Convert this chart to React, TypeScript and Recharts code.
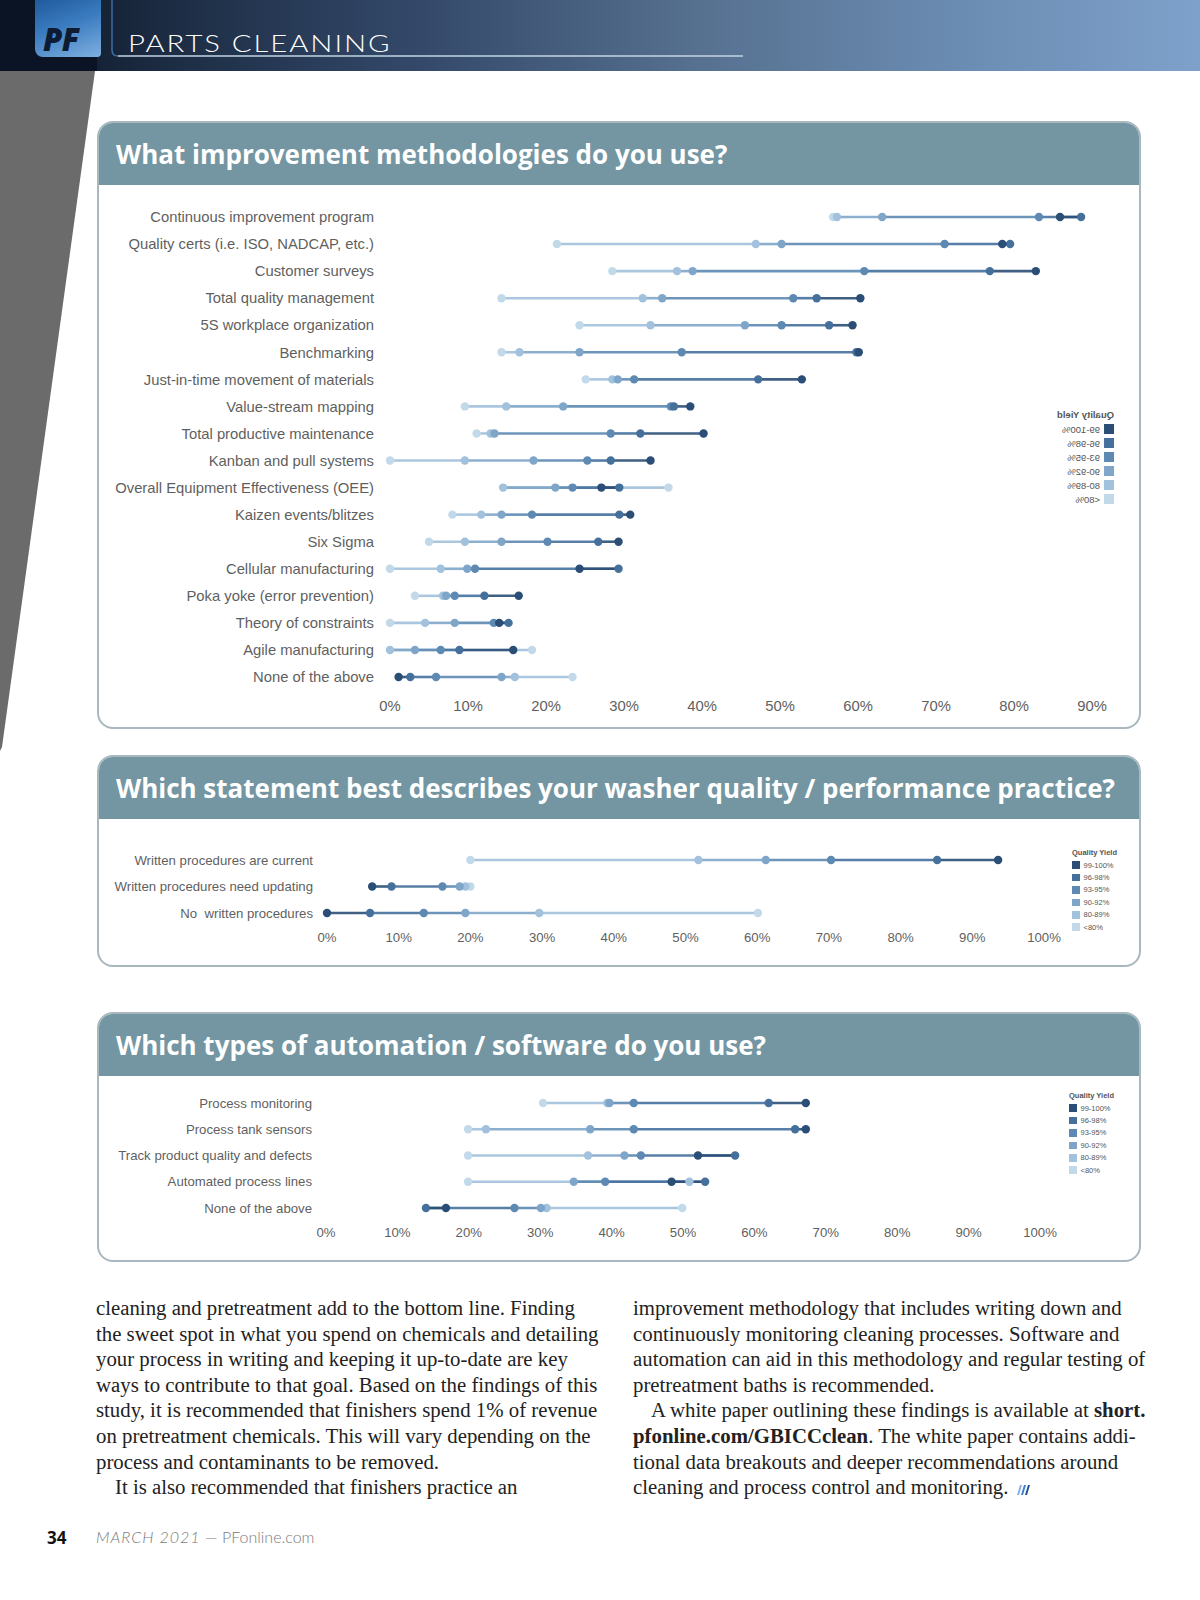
import React from "react";
import { ComposedChart, ErrorBar, Scatter, XAxis, YAxis } from "recharts";

// Quality yield groups, lightest to darkest
const yieldGroups = ["<80%", "80-89%", "90-92%", "93-95%", "96-98%", "99-100%"];
const yieldColors = ["#c2d9ea", "#a1c1dc", "#7fa6c9", "#5d89b3", "#45709c", "#2a4e76"];

// What improvement methodologies do you use?
const methodCategories = [
  "Continuous improvement program",
  "Quality certs (i.e. ISO, NADCAP, etc.)",
  "Customer surveys",
  "Total quality management",
  "5S workplace organization",
  "Benchmarking",
  "Just-in-time movement of materials",
  "Value-stream mapping",
  "Total productive maintenance",
  "Kanban and pull systems",
  "Overall Equipment Effectiveness (OEE)",
  "Kaizen events/blitzes",
  "Six Sigma",
  "Cellular manufacturing",
  "Poka yoke (error prevention)",
  "Theory of constraints",
  "Agile manufacturing",
  "None of the above",
];
const methodLt80 = [56.8, 21.4, 28.5, 14.3, 24.3, 14.3, 25.1, 9.6, 11.1, 0.0, 35.7, 8.0, 5.0, 0.0, 3.2, 0.0, 18.2, 23.4];
const method80 = [57.3, 46.9, 36.8, 32.4, 33.4, 16.6, 28.5, 14.9, 12.9, 9.6, 14.5, 11.7, 9.6, 6.5, 6.8, 4.5, 0.0, 16.0];
const method90 = [63.1, 50.2, 38.8, 34.9, 45.5, 24.3, 29.2, 22.2, 13.4, 18.4, 21.2, 14.3, 14.3, 9.9, 7.2, 8.3, 3.2, 14.3];
const method93 = [83.2, 71.1, 60.8, 51.7, 50.2, 37.4, 31.3, 36.0, 28.3, 25.3, 23.4, 18.2, 20.2, 10.9, 8.3, 13.3, 6.5, 5.9];
const method96 = [88.6, 79.5, 76.9, 54.7, 56.3, 59.8, 47.2, 36.4, 32.1, 28.3, 29.4, 29.4, 26.7, 29.3, 12.1, 15.2, 8.9, 2.6];
const method99 = [85.9, 78.5, 82.8, 60.3, 59.3, 60.1, 52.8, 38.5, 40.2, 33.4, 27.1, 30.8, 29.3, 24.3, 16.5, 14.0, 15.8, 1.1];
const methodTicks = [0, 10, 20, 30, 40, 50, 60, 70, 80, 90];

// Which statement best describes your washer quality / performance practice?
const practiceCategories = [
  "Written procedures are current",
  "Written procedures need updating",
  "No\u00a0 written procedures",
];
const practiceLt80 = [20.0, 20.0, 60.1];
const practice80 = [51.8, 19.3, 29.6];
const practice90 = [61.2, 18.5, 19.3];
const practice93 = [70.3, 16.1, 13.5];
const practice96 = [85.1, 9.0, 6.0];
const practice99 = [93.6, 6.3, 0.0];

// Which types of automation / software do you use?
const automationCategories = [
  "Process monitoring",
  "Process tank sensors",
  "Track product quality and defects",
  "Automated process lines",
  "None of the above",
];
const automationLt80 = [30.4, 19.9, 19.9, 19.9, 49.9];
const automation80 = [39.4, 22.4, 36.7, 50.9, 30.9];
const automation90 = [39.7, 37.0, 41.8, 34.7, 30.1];
const automation93 = [43.1, 43.1, 44.1, 39.1, 26.4];
const automation96 = [62.0, 65.7, 57.3, 53.1, 14.0];
const automation99 = [67.2, 67.2, 52.1, 48.4, 16.8];
const percentTicks = [0, 10, 20, 30, 40, 50, 60, 70, 80, 90, 100];

const keys = ["g0", "g1", "g2", "g3", "g4", "g5"];

function buildRows(categories: string[], series: number[][]) {
  return categories.map((label, r) => {
    const row: Record<string, any> = { label };
    series.forEach((s, i) => {
      row[keys[i]] = s[r];
    });
    return row;
  });
}

// segment from the previous yield group to this one, as an asymmetric x error bar
function segment(i: number) {
  return (row: Record<string, any>) => {
    const d = row[keys[i]] - row[keys[i - 1]];
    return d >= 0 ? [d, 0] : [0, -d];
  };
}

const noDot = () => <g />;

function DotPlot({
  categories,
  series,
  ticks,
  width,
  height,
  margin,
  yWidth,
  xHeight,
  fontSize,
  xTickMargin,
  yTickMargin,
}: {
  categories: string[];
  series: number[][];
  ticks: number[];
  width: number;
  height: number;
  margin: { top: number; right: number; bottom: number; left: number };
  yWidth: number;
  xHeight: number;
  fontSize: number;
  xTickMargin: number;
  yTickMargin: number;
}) {
  const rows = buildRows(categories, series);
  const tickStyle = { fill: "#5f5f5f", fontSize, fontFamily: "'Liberation Sans', Arial, sans-serif" };
  return (
    <ComposedChart layout="vertical" width={width} height={height} data={rows} margin={margin}>
      <XAxis
        type="number"
        domain={[0, ticks[ticks.length - 1]]}
        ticks={ticks}
        tickFormatter={(v) => `${v}%`}
        axisLine={false}
        tickLine={false}
        tickSize={0}
        tickMargin={xTickMargin}
        tick={tickStyle}
        height={xHeight}
        interval={0}
      />
      <YAxis
        type="category"
        dataKey="label"
        width={yWidth}
        axisLine={false}
        tickLine={false}
        tickSize={0}
        tickMargin={yTickMargin}
        tick={tickStyle}
        interval={0}
      />
      {[1, 2, 3, 4, 5].map((i) => (
        <Scatter key={`line-${i}`} dataKey={keys[i]} shape={noDot} isAnimationActive={false}>
          <ErrorBar
            dataKey={segment(i)}
            direction="x"
            width={0}
            stroke={yieldColors[i]}
            strokeWidth={2.6}
            strokeOpacity={0.9}
            isAnimationActive={false}
          />
        </Scatter>
      ))}
      {keys.map((k, i) => (
        <Scatter
          key={`dot-${k}`}
          dataKey={k}
          name={yieldGroups[i]}
          isAnimationActive={false}
          shape={(p: any) => <circle cx={p.cx} cy={p.cy} r={4.2} fill={yieldColors[i]} />}
        />
      ))}
    </ComposedChart>
  );
}

function YieldLegend({ box, gap, font, mirror }: { box: number; gap: number; font: number; mirror?: boolean }) {
  return (
    <div
      style={{
        fontFamily: "'Liberation Sans', Arial, sans-serif",
        color: "#555",
        transform: mirror ? "scaleX(-1)" : undefined,
        transformOrigin: "center",
      }}
    >
      <div style={{ fontSize: font, fontWeight: 700, marginBottom: 2, whiteSpace: "nowrap" }}>Quality Yield</div>
      {[...yieldGroups].reverse().map((g, j) => (
        <div key={g} style={{ display: "flex", alignItems: "center", height: gap, whiteSpace: "nowrap" }}>
          <span
            style={{
              width: box,
              height: box,
              background: yieldColors[yieldGroups.length - 1 - j],
              display: "inline-block",
              marginRight: 4,
            }}
          />
          <span style={{ fontSize: font }}>{g}</span>
        </div>
      ))}
    </div>
  );
}

function Card({ top, height, title }: { top: number; height: number; title: string }) {
  return (
    <div
      style={{
        position: "absolute",
        left: 97,
        top,
        width: 1044,
        height,
        boxSizing: "border-box",
        border: "2px solid #a9b8bf",
        borderRadius: 16,
        overflow: "hidden",
        background: "#fff",
      }}
    >
      <div
        style={{
          height: 62,
          background: "#7396a2",
          color: "#fff",
          fontFamily: "'Open Sans', sans-serif",
          fontWeight: 700,
          fontSize: 26,
          letterSpacing: 0,
          lineHeight: "62px",
          paddingLeft: 17,
          whiteSpace: "nowrap",
        }}
      >
        {title}
      </div>
    </div>
  );
}

const leftLines = [
  "cleaning and pretreatment add to the bottom line. Finding",
  "the sweet spot in what you spend on chemicals and detailing",
  "your process in writing and keeping it up-to-date are key",
  "ways to contribute to that goal. Based on the findings of this",
  "study, it is recommended that finishers spend 1% of revenue",
  "on pretreatment chemicals. This will vary depending on the",
  "process and contaminants to be removed.",
];

const rightLines = [
  "improvement methodology that includes writing down and",
  "continuously monitoring cleaning processes. Software and",
  "automation can aid in this methodology and regular testing of",
  "pretreatment baths is recommended.",
];

const bodyText: React.CSSProperties = {
  fontFamily: "'Liberation Serif', 'Times New Roman', serif",
  fontSize: 20.8,
  lineHeight: "25.6px",
  color: "#222",
  whiteSpace: "nowrap",
};

export default function App() {
  return (
    <div
      style={{
        position: "absolute",
        left: 0,
        top: 0,
        width: 1200,
        height: 1600,
        background: "#fff",
        overflow: "hidden",
      }}
    >
      {/* header band */}
      <div
        style={{
          position: "absolute",
          left: 0,
          top: 0,
          width: 1200,
          height: 71,
          background: "linear-gradient(90deg, #0c1626 0%, #1c2c43 14%, #34496a 35%, #56708f 58%, #6b8cb2 80%, #7ea1cb 100%)",
        }}
      />
      <div style={{ position: "absolute", left: 0, top: 0, width: 97, height: 71, background: "#0b1424" }} />
      <div
        style={{
          position: "absolute",
          left: 35,
          top: 0,
          width: 66,
          height: 57,
          borderRadius: "0 0 4px 8px",
          background: "linear-gradient(160deg, #1f5a9c 0%, #3b7cc0 45%, #7fb0e0 100%)",
        }}
      />
      <div
        style={{
          position: "absolute",
          left: 43,
          top: 21,
          fontFamily: "'Open Sans', sans-serif",
          fontWeight: 800,
          fontStyle: "italic",
          fontSize: 31,
          lineHeight: "36px",
          color: "#0d1b33",
          letterSpacing: -0.5,
        }}
      >
        PF
      </div>
      <svg style={{ position: "absolute", left: 0, top: 0 }} width={800} height={71}>
        <path d="M112 0 L112 50 Q112 56 118 56" fill="none" stroke="#3c6ea4" strokeWidth={1.5} />
        <path d="M118 56 L743 56" fill="none" stroke="#c3d4e5" strokeWidth={1.5} />
      </svg>
      <div
        style={{
          position: "absolute",
          left: 128,
          top: 28,
          fontFamily: "Lato, sans-serif",
          fontWeight: 300,
          fontSize: 24,
          lineHeight: "30px",
          letterSpacing: 1.6,
          color: "#fff",
          whiteSpace: "nowrap",
          transform: "scaleX(1.22)",
          transformOrigin: "left center",
        }}
      >
        PARTS CLEANING
      </div>

      {/* grey slanted band */}
      <svg style={{ position: "absolute", left: 0, top: 71 }} width={100} height={690}>
        <polygon points="0,0 95,0 2,676 0,680" fill="#6b6b6b" />
      </svg>

      <Card top={121} height={608} title="What improvement methodologies do you use?" />
      <Card top={755} height={212} title="Which statement best describes your washer quality / performance practice?" />
      <Card top={1012} height={250} title="Which types of automation / software do you use?" />

      <div style={{ position: "absolute", left: 100, top: 190 }}>
        <DotPlot
          categories={methodCategories}
          series={[methodLt80, method80, method90, method93, method96, method99]}
          ticks={methodTicks}
          width={1040}
          height={533}
          margin={{ top: 27, right: 48, bottom: 0, left: 0 }}
          yWidth={290}
          xHeight={46}
          fontSize={14.8}
          xTickMargin={23}
          yTickMargin={16}
        />
      </div>
      <div style={{ position: "absolute", left: 1057, top: 409 }}>
        <YieldLegend box={10} gap={14} font={9.5} mirror />
      </div>

      <div style={{ position: "absolute", left: 100, top: 835 }}>
        <DotPlot
          categories={practiceCategories}
          series={[practiceLt80, practice80, practice90, practice93, practice96, practice99]}
          ticks={percentTicks}
          width={1040}
          height={120}
          margin={{ top: 25, right: 96, bottom: 0, left: 0 }}
          yWidth={227}
          xHeight={42}
          fontSize={13.2}
          xTickMargin={19.6}
          yTickMargin={14}
        />
      </div>
      <div style={{ position: "absolute", left: 1072, top: 848 }}>
        <YieldLegend box={7.5} gap={12.4} font={7.5} />
      </div>

      <div style={{ position: "absolute", left: 100, top: 1080 }}>
        <DotPlot
          categories={automationCategories}
          series={[automationLt80, automation80, automation90, automation93, automation96, automation99]}
          ticks={percentTicks}
          width={1040}
          height={170}
          margin={{ top: 23, right: 100, bottom: 0, left: 0 }}
          yWidth={226}
          xHeight={42}
          fontSize={13.2}
          xTickMargin={19.8}
          yTickMargin={14}
        />
      </div>
      <div style={{ position: "absolute", left: 1069, top: 1091 }}>
        <YieldLegend box={7.5} gap={12.4} font={7.5} />
      </div>

      {/* body text */}
      <div style={{ position: "absolute", left: 96, top: 1295, ...bodyText }}>
        {leftLines.map((l) => (
          <div key={l}>{l}</div>
        ))}
        <div style={{ paddingLeft: 19 }}>It is also recommended that finishers practice an</div>
      </div>
      <div style={{ position: "absolute", left: 633, top: 1295, ...bodyText }}>
        {rightLines.map((l) => (
          <div key={l}>{l}</div>
        ))}
        <div style={{ paddingLeft: 18 }}>
          A white paper outlining these findings is available at <b>short.</b>
        </div>
        <div>
          <b>pfonline.com/GBICCclean</b>. The white paper contains addi-
        </div>
        <div>tional data breakouts and deeper recommendations around</div>
        <div>
          cleaning and process control and monitoring.{" "}
          <svg width={16} height={12} style={{ verticalAlign: "-1px" }}>
            <polygon points="3,12 6,2 8,2 5,12" fill="#7fb1e6" />
            <polygon points="7,12 10,2 12,2 9,12" fill="#3f7fc9" />
            <polygon points="11,12 14,2 16,2 13,12" fill="#1f4f96" />
          </svg>
        </div>
      </div>

      {/* footer */}
      <div
        style={{
          position: "absolute",
          left: 47,
          top: 1526,
          fontFamily: "'Open Sans', sans-serif",
          fontWeight: 700,
          fontSize: 17,
          color: "#111",
        }}
      >
        34
      </div>
      <div
        style={{
          position: "absolute",
          left: 96,
          top: 1527,
          fontFamily: "Lato, sans-serif",
          fontWeight: 300,
          fontSize: 16,
          color: "#7a7a7a",
          whiteSpace: "nowrap",
        }}
      >
        <span style={{ fontStyle: "italic", letterSpacing: 1 }}>MARCH 2021</span> — PFonline.com
      </div>
    </div>
  );
}
